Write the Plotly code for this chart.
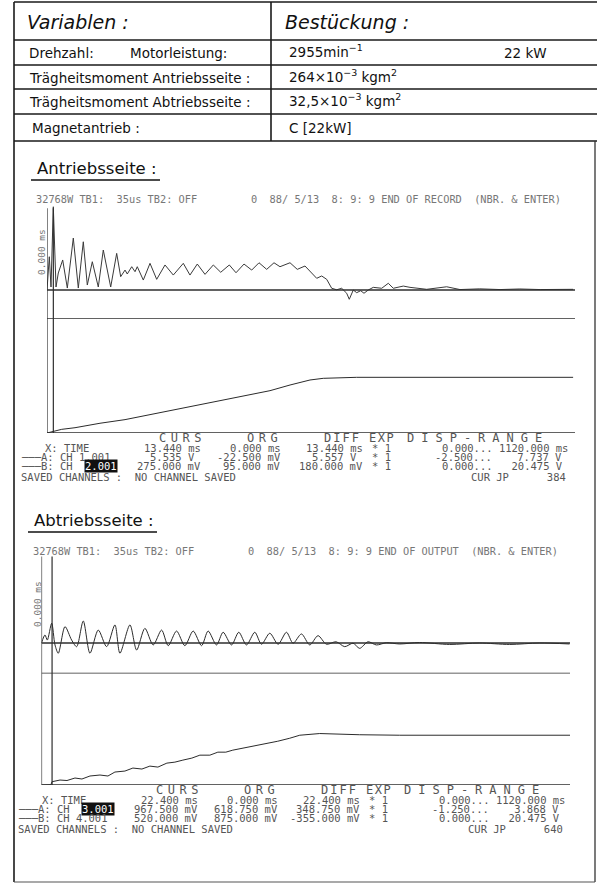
import plotly.graph_objects as go

# ---------------- data ----------------
TIME_RANGE = [0, 1120]          # ms (DISP-RANGE X)

# Antriebsseite
TOP_CURSOR_MS = 13.44
TOP_RANGE_A = [-2.5, 7.737]     # V
TOP_RANGE_B = [0.0, 20.475]     # V
TOP_A_T = [0, 4.9, 8.5, 13.4, 19.1, 24.0, 33.3, 43.1, 55.8, 66.4, 77.0, 85.5, 96.1, 108.8,
           119.4, 135.1, 147.8, 156.3, 165.5, 170.3, 179.7, 186.7, 191.5, 204.3, 218.5, 232.7,
           250.3, 267.9, 289.1, 303.3, 318.8, 335.2, 352.8, 368.5, 386.7, 400.9, 417.9, 434.2,
           449.7, 466.0, 481.5, 494.2, 515.5, 530.9, 547.3, 561.5, 572.1, 582.7, 593.3, 603.9,
           614.5, 625.1, 635.7, 641.2, 649.7, 656.9, 665.4, 672.4, 681.5, 692.1, 710.0, 724.0,
           734.6, 755.8, 770.0, 805.4, 847.8, 876, 918, 961, 1003, 1046, 1088, 1116]
TOP_A_V = [0, 2.87, 0.26, 7.18, 0.26, 1.47, 2.59, 0.17, 4.48, 0.17, 4.16, 0.43, 2.44, 0.26,
           3.45, 0.26, 3.16, 1.15, 1.72, 1.38, 2.01, 1.58, 2.01, 0.86, 2.30, 0.92,
           2.16, 1.29, 2.30, 1.29, 2.24, 1.35, 2.16, 1.53, 2.16, 1.49, 2.24, 1.72,
           2.35, 1.78, 2.35, 2.01, 2.35, 1.78, 2.07, 1.44, 1.01, 1.21, 0.92, 0.15,
           0.02, 0.15, -0.28, -0.80, 0, -0.23, -0.06, -0.28, 0, 0.23, 0.15, 0.58,
           0.15, 0.34, 0.23, 0.06, 0.28, 0.04, 0.1, 0.04, 0.09, 0.04, 0.09, 0.06]
TOP_B_T = [0, 10.0, 31.2, 59.4, 112.4, 165.5, 218.5, 271.5, 324.5, 377.6, 430.6, 473.0,
           515.5, 557.9, 586.1, 656.9, 1116]
TOP_B_V = [0, 0.23, 0.66, 0.95, 1.75, 2.40, 3.30, 4.15, 5.05, 5.90, 6.90, 7.60,
           8.62, 9.52, 9.82, 10.0, 10.0]

# Abtriebsseite
BOT_CURSOR_MS = 22.4
BOT_RANGE_A = [-1.25, 3.868]
BOT_RANGE_B = [0.0, 20.475]
BOT_A_T = [0, 7.4, 12.3, 21.6, 28.6, 35.6, 49.8, 63.9, 74.5, 88.5, 102.7, 120.3, 138.0, 155.6,
           166.2, 187.4, 201.6, 219.1, 236.7, 254.5, 268.5, 286.2, 303.8, 321.4, 339.2, 353.1,
           370.9, 384.9, 402.7, 418.1, 434.4, 452.0, 466.2, 483.8, 501.4, 519.1, 533.1, 550.9,
           568.5, 586.0, 603.8, 624.3, 642.6, 660.2, 674.3, 691.9, 709.7, 730.9, 759, 801,
           865, 928, 992, 1055, 1119]
BOT_A_V = [0, 0.33, 0.12, 0.81, -0.08, -0.42, 0.67, 0.12, -0.15, 0.90, -0.42, 0.53, -0.15, 0.74,
           -0.42, 0.74, -0.29, 0.60, -0.08, 0.53, -0.11, 0.49, -0.11, 0.49, -0.11, 0.49,
           -0.08, 0.44, -0.08, 0.44, -0.08, 0.44, -0.05, 0.40, -0.05, 0.44, -0.01, 0.37,
           -0.08, 0.30, -0.05, 0.05, -0.15, -0.01, -0.22, 0.05, -0.08, 0.01, -0.04, 0.02,
           -0.06, 0, -0.06, 0, -0.04]
BOT_B_T = [0, 20.0, 22.2, 39.2, 54.0, 70.9, 85.7, 102.7, 123.9, 140.8, 155.6, 176.8, 193.7, 212.8,
           229.7, 246.7, 265.7, 282.7, 299.6, 318.6, 335.6, 356.8, 373.7, 390.6, 405.4,
           426.6, 445.7, 462.6, 477.4, 500.7, 526.1, 547.3, 589.6, 638.3, 674.3, 759.0,
           864.9, 970.7, 1120]
BOT_B_V = [0, 0.05, 0.60, 0.91, 0.82, 1.28, 1.10, 1.65, 1.83, 1.65, 2.38, 2.56, 3.11, 2.93,
           3.47, 3.29, 4.02, 4.20, 4.57, 4.94, 5.48, 5.48, 6.03, 6.03, 6.40,
           6.76, 7.13, 7.31, 7.68, 8.04, 8.59, 9.14, 9.45, 9.32, 9.23, 9.14,
           9.18, 9.14, 9.14]

# readout tables
TOP_HEADER = ["32768W TB1:  35us TB2: OFF", "0  88/ 5/13  8: 9: 9 END OF RECORD  (NBR. & ENTER)"]
BOT_HEADER = ["32768W TB1:  35us TB2: OFF", "0  88/ 5/13  8: 9: 9 END OF OUTPUT  (NBR. & ENTER)"]
COL_HEADS = ["CURS", "ORG", "DIFF", "EXP", "DISP-RANGE"]
TOP_ROWS = {
    "label": ["X: TIME", "───A: CH 1.001", "───B: CH"],
    "hilite": [None, None, "2.001"],
    "curs": ["13.440 ms", "5.535 V ", "275.000 mV"],
    "org": ["0.000 ms", "-22.500 mV", "95.000 mV"],
    "diff": ["13.440 ms", "5.557 V ", "180.000 mV"],
    "exp": ["* 1", "* 1", "* 1"],
    "disp": ["0.000... 1120.000 ms", "-2.500...    7.737 V ", "0.000...   20.475 V "],
    "curjp": "CUR JP      384",
}
BOT_ROWS = {
    "label": ["X: TIME", "───A: CH", "───B: CH 4.001"],
    "hilite": [None, "3.001", None],
    "curs": ["22.400 ms", "967.500 mV", "520.000 mV"],
    "org": ["0.000 ms", "618.750 mV", "875.000 mV"],
    "diff": ["22.400 ms", "348.750 mV", "-355.000 mV"],
    "exp": ["* 1", "* 1", "* 1"],
    "disp": ["0.000... 1120.000 ms", "-1.250...    3.868 V ", "0.000...   20.475 V "],
    "curjp": "CUR JP      640",
}

# ---------------- layout helpers ----------------
W, H = 597, 884
def px(x): return x / W
def py(y): return 1 - y / H
def nb(s): return s.replace(" ", "\u00a0")

MONO = "DejaVu Sans Mono"
SANS = "DejaVu Sans"
ann, shapes = [], []

def text(x, y, s, size=11, family=MONO, color="#555", xanchor="left", **kw):
    ann.append(dict(x=px(x), y=py(y), xref="paper", yref="paper", text=s, showarrow=False,
                    xanchor=xanchor, yanchor="middle",
                    font=dict(family=family, size=size, color=color), **kw))

def pline(x0, y0, x1, y1, color="#222", width=1.4):
    shapes.append(dict(type="line", xref="paper", yref="paper", x0=px(x0), y0=py(y0),
                       x1=px(x1), y1=py(y1), line=dict(color=color, width=width)))

fig = go.Figure()

# ---------------- scope plots ----------------
fig.add_trace(go.Scatter(x=TOP_A_T, y=TOP_A_V, mode="lines", line=dict(color="#3a3a3a", width=1),
                         xaxis="x", yaxis="y"))
fig.add_trace(go.Scatter(x=TOP_B_T, y=TOP_B_V, mode="lines", line=dict(color="#2b2b2b", width=1),
                         xaxis="x", yaxis="y2"))
fig.add_trace(go.Scatter(x=BOT_A_T, y=BOT_A_V, mode="lines",
                         line=dict(color="#2b2b2b", width=1, shape="spline", smoothing=0.8),
                         xaxis="x2", yaxis="y3"))
fig.add_trace(go.Scatter(x=BOT_B_T, y=BOT_B_V, mode="lines", line=dict(color="#2b2b2b", width=1),
                         xaxis="x2", yaxis="y4"))

def dom(top_px, bot_px):
    return [py(bot_px), py(top_px)]

sections = [
    ("x", "y", "y2", (47, 575), (200.3, 319), (319, 433), TOP_CURSOR_MS, TOP_RANGE_A, TOP_RANGE_B),
    ("x2", "y3", "y4", (41.5, 570), (548.6, 673.5), (673.5, 785), BOT_CURSOR_MS, BOT_RANGE_A, BOT_RANGE_B),
]
hidden = dict(visible=False, showgrid=False, zeroline=False, fixedrange=True)
layout_axes = {}
for xa, ya, yb, xd, ad, bd, cur, ra, rb in sections:
    xn = "xaxis" if xa == "x" else "xaxis" + xa[1:]
    yan = "yaxis" if ya == "y" else "yaxis" + ya[1:]
    ybn = "yaxis" + yb[1:]
    layout_axes[xn] = dict(domain=[px(xd[0]), px(xd[1])], range=TIME_RANGE, anchor=ya, **hidden)
    layout_axes[yan] = dict(domain=dom(*ad), range=ra, anchor=xa, **hidden)
    layout_axes[ybn] = dict(domain=dom(*bd), range=rb, anchor=xa, **hidden)
    for yref, yv in ((ya, 0.0), (ya, ra[0]), (yb, rb[0])):
        shapes.append(dict(type="line", xref=xa, yref=yref, x0=TIME_RANGE[0], x1=TIME_RANGE[1],
                           y0=yv, y1=yv, line=dict(color="#2e2e2e", width=1.4)))
    for xv in (TIME_RANGE[0], cur):
        shapes.append(dict(type="line", xref=xa, yref="paper", x0=xv, x1=xv,
                           y0=py(bd[1]), y1=py(ad[0] + 8), line=dict(color="#2e2e2e", width=1.2)))

# ---------------- table ----------------
TC = "#1a1a1a"
pline(14, 2, 597, 2, TC, 1.6)
for yy in (40, 65, 89, 114, 141):
    pline(14, yy, 597, yy, TC, 1.6)
pline(14, 2, 14, 882, TC, 1.6)
pline(271, 2, 271, 141, TC, 1.6)
pline(595, 141, 595, 882, "#333", 1.3)
pline(14, 882, 595, 882, "#555", 1.2)

TF = dict(size=13.5, family=SANS, color="#111")
text(25, 22, "<i>Variablen :</i>", size=19, family=SANS, color="#111")
text(283, 22, "<i>Bestückung :</i>", size=19, family=SANS, color="#111")
text(27, 53, "Drehzahl:", **TF)
text(128, 53, "Motorleistung:", **TF)
text(287, 51, "2955min<sup>−1</sup>", **TF)
text(502, 53, "22 kW", **TF)
text(27, 78, "Trägheitsmoment Antriebsseite :", **TF)
text(287, 76, "264×10<sup>−3</sup> kgm<sup>2</sup>", **TF)
text(27, 102, "Trägheitsmoment Abtriebsseite :", **TF)
text(287, 100, "32,5×10<sup>−3</sup> kgm<sup>2</sup>", **TF)
text(30, 128, "Magnetantrieb :", **TF)
text(287, 128, "C [22kW]", **TF)

# ---------------- section texts ----------------
HEAD_SPEC = [  # (left x, letter spacing px)
    (157, 4.5), (245, 4.5), (322, 2.0), (367, 1.5), (405, 7.0)]
ROW_Y = (448, 457, 466)

def section_text(dy, dx, title, header, rows, ylabel_x):
    text(35 + dx, 168 + dy, title, size=16.5, family=SANS, color="#111")
    pline(31 + dx, 180 + dy, 160 + dx, 180 + dy, "#111", 1.6)
    text(34 + dx, 199 + dy, nb(header[0]), size=10.3, color="#777")
    text(249 + dx, 199 + dy, nb(header[1]), size=10.3, color="#777")
    ann.append(dict(x=px(ylabel_x), y=py(252 + dy), xref="paper", yref="paper", text=nb("0.000 ms"),
                    showarrow=False, textangle=-90, xanchor="center", yanchor="middle",
                    font=dict(family=MONO, size=9.5, color="#777")))
    for (lx, ls), h in zip(HEAD_SPEC, COL_HEADS):
        text(lx + dx, 438 + dy, '<span style="letter-spacing:%.1fpx">%s</span>' % (ls, h),
             size=12, color="#555")
    for i, y0 in enumerate(ROW_Y):
        yv = y0 + dy
        lab = rows["label"][i]
        lx = 43 if lab.startswith("X") else 19
        text(lx + dx, yv, nb(lab), size=10.5, color="#555")
        if rows["hilite"][i]:
            text(84 + dx, yv, nb(rows["hilite"][i]), size=10.5, color="#fff", bgcolor="#111",
                 borderpad=0)
        text(203 + dx, yv, nb(rows["curs"][i]), size=10.5, color="#555", xanchor="right")
        text(283 + dx, yv, nb(rows["org"][i]), size=10.5, color="#555", xanchor="right")
        text(365 + dx, yv, nb(rows["diff"][i]), size=10.5, color="#555", xanchor="right")
        text(370 + dx, yv, nb(rows["exp"][i]), size=10.5, color="#555")
        text(570 + dx, yv, nb(rows["disp"][i]), size=10.5, color="#555", xanchor="right")
    text(19 + dx, 477 + dy, nb("SAVED CHANNELS :  NO CHANNEL SAVED"), size=10.5, color="#555")
    text(568 + dx, 477 + dy, nb(rows["curjp"]), size=10.5, color="#555", xanchor="right")

section_text(0, 0, "Antriebsseite :", TOP_HEADER, TOP_ROWS, 41)
section_text(352, -3, "Abtriebsseite :", BOT_HEADER, BOT_ROWS, 37)

fig.update_layout(
    width=W, height=H, margin=dict(l=0, r=0, t=0, b=0),
    paper_bgcolor="white", plot_bgcolor="white", showlegend=False,
    annotations=ann, shapes=shapes, **layout_axes,
)
fig.write_html("out.html", config={"displayModeBar": False, "staticPlot": True},
               post_script="document.body.style.margin='0';")
